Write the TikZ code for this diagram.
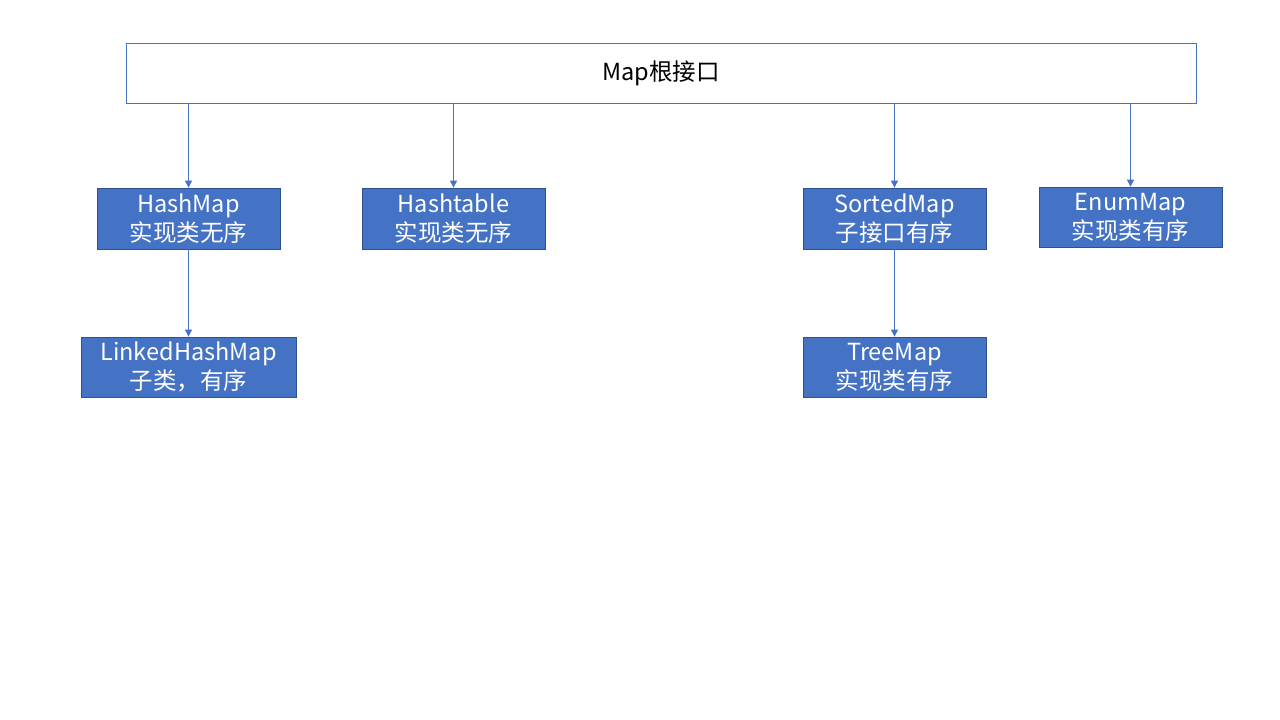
\documentclass[tikz,border=0pt]{standalone}
\usepackage{fontspec}
\setmainfont{Noto Sans CJK SC}
\usetikzlibrary{arrows.meta}
\definecolor{accent}{HTML}{4472C4}
\definecolor{accentdark}{HTML}{2F528F}
\tikzset{
  rootbox/.style={draw=accent, fill=white, line width=0.8pt, inner sep=0pt, font=\fontsize{23.5}{28}\selectfont},
  classbox/.style={draw=accentdark, fill=accent, line width=0.8pt, inner sep=0pt, text=white, align=center,
    font=\fontsize{23.5}{29}\selectfont},
  link/.style={draw=accent, line width=0.9pt, -{Triangle[width=7pt,length=7pt]}}
}
\begin{document}
\begin{tikzpicture}[x=1pt,y=-1pt]
\useasboundingbox (0,0) rectangle (1280,720);
\fill[white] (0,0) rectangle (1280,720);
\node[rootbox, minimum width=1070pt, minimum height=60pt] (root) at (661,73) {Map根接口};
\node[classbox, minimum width=183pt, minimum height=61pt] (hashmap) at (188.5,218.5) {HashMap\\实现类无序};
\node[classbox, minimum width=183pt, minimum height=61pt] (hashtable) at (453.5,218.5) {Hashtable\\实现类无序};
\node[classbox, minimum width=183pt, minimum height=61pt] (sorted) at (894.5,218.5) {SortedMap\\子接口有序};
\node[classbox, minimum width=183pt, minimum height=60pt] (enum) at (1130.5,217) {EnumMap\\实现类有序};
\node[classbox, minimum width=215pt, minimum height=60pt] (linked) at (188.5,367) {LinkedHashMap\\子类，有序};
\node[classbox, minimum width=183pt, minimum height=60pt] (tree) at (894.5,367) {TreeMap\\实现类有序};
\draw[link] (root.south -| hashmap.north) -- (hashmap.north);
\draw[link] (root.south -| hashtable.north) -- (hashtable.north);
\draw[link] (root.south -| sorted.north) -- (sorted.north);
\draw[link] (root.south -| enum.north) -- (enum.north);
\draw[link] (hashmap.south) -- (linked.north);
\draw[link] (sorted.south) -- (tree.north);
\end{tikzpicture}
\end{document}
